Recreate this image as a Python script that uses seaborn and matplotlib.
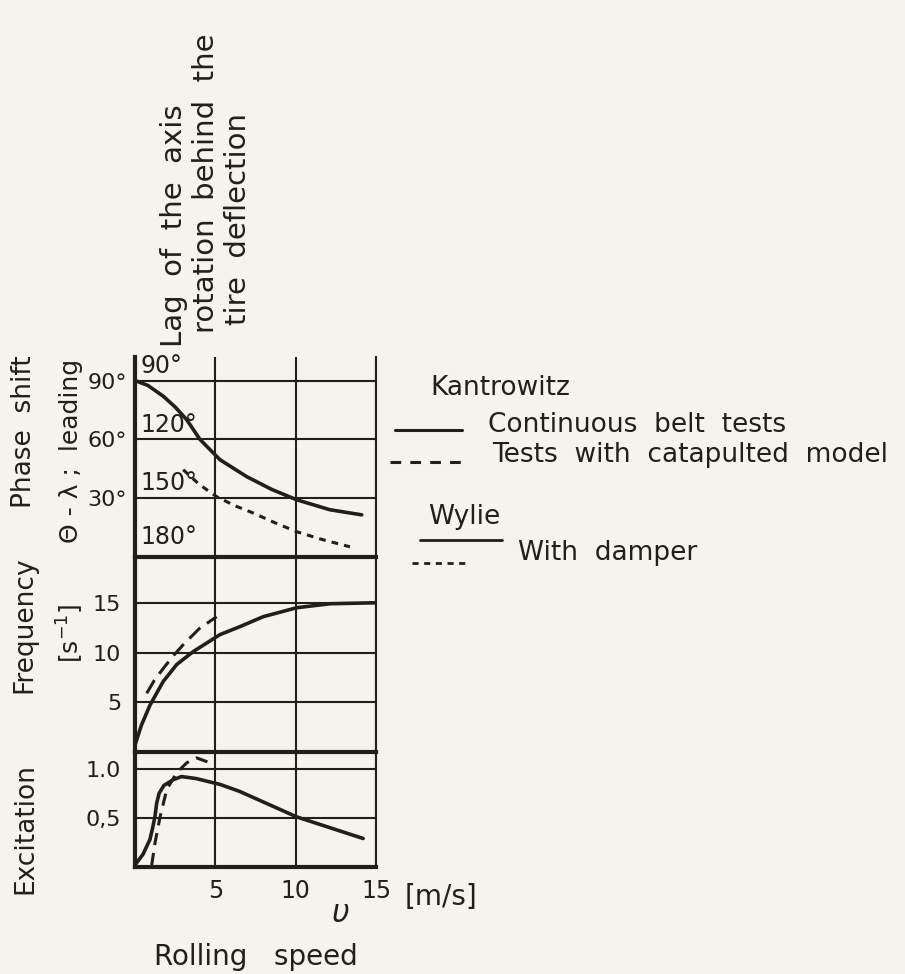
import matplotlib
matplotlib.use("Agg")
import matplotlib.pyplot as plt
import seaborn as sns
import pandas as pd
from matplotlib.lines import Line2D

# ---- data: rolling speed v [m/s] and the measured curves ----
# phase lag of the axis rotation behind the tire deflection [deg]
wylie_x = [0, 0.8, 1.76, 2.5, 3.22, 4.04, 5.29, 6.95, 8.5, 10.06, 12.13, 14.11]
wylie_lag = [90, 92.5, 98, 103.5, 110, 120, 130.4, 139, 145.5, 150.8, 155.9, 158.5]
damper_x = [3.0, 4.0, 5.08, 6.2, 7.34, 8.7, 10.06, 11.7, 13.38]
damper_lag = [135.5, 143, 149.2, 153.8, 157.5, 162.5, 167.1, 171.2, 174.8]

# frequency [1/s]
freq_belt_x = [0, 0.4, 0.93, 1.76, 2.6, 3.63, 5.29, 6.53, 7.98, 10.06, 12.13, 15.0]
freq_belt = [0.7, 2.7, 4.7, 7.1, 8.8, 10.1, 11.8, 12.6, 13.6, 14.5, 14.9, 15.0]
freq_cat_x = [0.73, 1.2, 1.76, 2.4, 3.01, 4.0, 5.08]
freq_cat = [5.9, 7.2, 8.4, 9.7, 10.8, 12.4, 13.6]

# excitation
exc_belt_x = [0.0, 0.5, 0.93, 1.1, 1.24, 1.35, 1.5, 1.8, 2.4, 2.9, 3.8, 5.3, 6.5, 10.06, 14.2]
exc_belt = [0.02, 0.13, 0.28, 0.40, 0.51, 0.65, 0.75, 0.83, 0.89, 0.92, 0.90, 0.84, 0.77, 0.51, 0.29]
exc_cat_x = [1.04, 1.24, 1.56, 1.98, 2.60, 3.22, 3.84, 4.67]
exc_cat = [0.02, 0.24, 0.51, 0.79, 0.96, 1.06, 1.11, 1.06]

phase_ticks = [90, 120, 150, 180]
phase_lead_labels = ["90°", "60°", "30°", ""]
phase_lag_labels = ["90°", "120°", "150°", "180°"]
freq_ticks = [5, 10, 15]
exc_ticks = [0.5, 1.0]
exc_labels = ["0,5", "1.0"]
speed_ticks = [5, 10, 15]

INK = "#221e1b"
PAPER = "#f5f3ec"
FONT = "DejaVu Sans"

sns.set_theme(style="white")
plt.rcParams["font.family"] = [FONT]
plt.rcParams["text.color"] = INK
plt.rcParams["axes.labelcolor"] = INK
plt.rcParams["xtick.color"] = INK
plt.rcParams["ytick.color"] = INK

W, H = 905, 974
fig = plt.figure(figsize=(W / 100, H / 100), dpi=100, facecolor=PAPER)


def fx(x):
    return x / W


def fy(y):
    return 1 - y / H


left, right = 135, 376


def make_axes(top, bottom):
    ax = fig.add_axes([fx(left), fy(bottom), fx(right - left), (bottom - top) / H])
    ax.set_facecolor("none")
    return ax


ax_ph = make_axes(357, 557)
ax_fr = make_axes(557, 752)
ax_ex = make_axes(752, 867)

THIN = 1.5
THICK = 3.0
CURVE = 2.6

for ax in (ax_ph, ax_fr, ax_ex):
    ax.set_xlim(0, 15)
    ax.set_xticks(speed_ticks)
    ax.grid(True, color=INK, lw=THIN)
    ax.tick_params(length=0, labelsize=16, colors=INK)
    ax.spines["top"].set_visible(False)
    ax.spines["right"].set_color(INK)
    ax.spines["right"].set_linewidth(THIN)
    ax.spines["left"].set_color(INK)
    ax.spines["left"].set_linewidth(THICK)
    ax.spines["bottom"].set_color(INK)
    ax.spines["bottom"].set_linewidth(THICK)
    ax.set_xlabel("")
    ax.set_ylabel("")

# ---- phase shift panel ----
sns.lineplot(x=wylie_x, y=wylie_lag, ax=ax_ph, color=INK, lw=CURVE)
sns.lineplot(x=damper_x, y=damper_lag, ax=ax_ph, color=INK, lw=2.2,
             linestyle=(0, (2.2, 2.0)))
ax_ph.set_ylim(180, 78)
ax_ph.set_yticks(phase_ticks)
ax_ph.set_yticklabels(phase_lead_labels)
ax_ph.tick_params(axis="y", pad=6)
ax_ph.set_xticklabels([])
for val, lab in zip(phase_ticks, phase_lag_labels):
    off = 10 if val == 180 else 7.5
    ax_ph.text(0.35, val - off, lab, fontsize=17, va="center", ha="left", color=INK)

# ---- frequency panel ----
sns.lineplot(x=freq_belt_x, y=freq_belt, ax=ax_fr, color=INK, lw=CURVE)
sns.lineplot(x=freq_cat_x, y=freq_cat, ax=ax_fr, color=INK, lw=2.2,
             linestyle=(0, (5.0, 2.6)))
ax_fr.set_ylim(0, 19.6)
ax_fr.set_yticks(freq_ticks)
ax_fr.set_yticklabels([str(t) for t in freq_ticks])
ax_fr.tick_params(axis="y", pad=10)
ax_fr.set_xticklabels([])

# ---- excitation panel ----
sns.lineplot(x=exc_belt_x, y=exc_belt, ax=ax_ex, color=INK, lw=CURVE)
sns.lineplot(x=exc_cat_x, y=exc_cat, ax=ax_ex, color=INK, lw=2.2,
             linestyle=(0, (4.0, 2.6)))
ax_ex.set_ylim(0, 1.17)
ax_ex.set_yticks(exc_ticks)
ax_ex.set_yticklabels(exc_labels)
ax_ex.tick_params(axis="y", pad=10)
ax_ex.set_xticklabels([str(t) for t in speed_ticks])
ax_ex.tick_params(axis="x", pad=9, labelsize=17)

# ---- axis titles ----
def vtext(x, y, s, size=19, ha="left", va="baseline", **kw):
    fig.text(fx(x), fy(y), s, rotation=90, rotation_mode="anchor",
             ha=ha, va=va, fontsize=size, color=INK, **kw)


vtext(182, 347, "Lag  of  the  axis", size=21)
vtext(214, 333, "rotation  behind  the", size=21)
vtext(246, 325, "tire  deflection", size=21)

vtext(24, 432, "Phase  shift", ha="center", va="center")
vtext(24, 625, "Frequency", ha="center", va="center")
vtext(25, 828, "Excitation", ha="center", va="center")
vtext(71, 451, "\u0398 - \u03bb ;  leading", ha="center", va="center", size=18)
vtext(70, 633, "[s$^{-1}$]", ha="center", va="center", size=18)

fig.text(fx(405), fy(897), "[m/s]", fontsize=20, va="center", ha="left", color=INK)
fig.text(fx(340), fy(913), r"$\upsilon$", fontsize=22, va="center", ha="center", color=INK)
fig.text(fx(256), fy(957), "Rolling   speed", fontsize=20, va="center", ha="center", color=INK)

# ---- legend ----
def legend_line(x0, x1, y, **kw):
    fig.add_artist(Line2D([fx(x0), fx(x1)], [fy(y), fy(y)], color=INK,
                          transform=fig.transFigure, **kw))


fig.text(fx(430), fy(388), "Kantrowitz", fontsize=19, va="center", ha="left", color=INK)
legend_line(395, 462, 430, lw=2.2)
fig.text(fx(488), fy(425), "Continuous  belt  tests", fontsize=19, va="center", ha="left", color=INK)
legend_line(390, 467, 462, lw=2.2, linestyle=(0, (3.5, 3.0)))
fig.text(fx(492), fy(455), "Tests  with  catapulted  model", fontsize=19, va="center", ha="left", color=INK)
fig.text(fx(428), fy(517), "Wylie", fontsize=19, va="center", ha="left", color=INK)
legend_line(420, 502, 540, lw=2.0)
legend_line(412, 470, 563, lw=2.0, linestyle=(0, (2.2, 2.0)))
fig.text(fx(518), fy(553), "With  damper", fontsize=19, va="center", ha="left", color=INK)

fig.savefig("out.png", dpi=100, facecolor=PAPER)
